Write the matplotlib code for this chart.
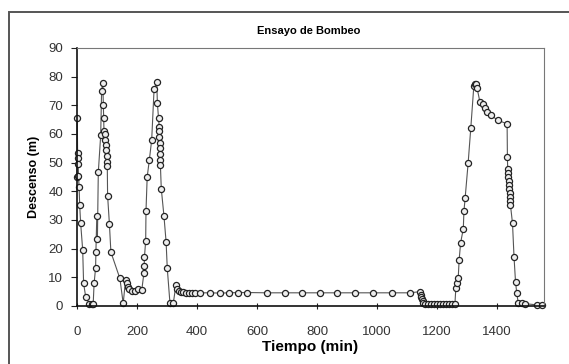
import matplotlib
matplotlib.use("Agg")
import matplotlib.pyplot as plt
from matplotlib.patches import Rectangle

plt.rcParams['font.family'] = ['Liberation Sans', 'DejaVu Sans']

# Pumping test: time (min) and drawdown (m)
tiempo = [
    0, 1, 2, 3, 4, 5, 7, 9, 12, 19, 22, 29, 41, 49, 54,
    57, 62, 63, 66, 68, 71, 79, 82, 86, 88, 89, 90, 93, 95, 97, 98, 99, 100, 101,
    102, 108, 113, 143, 154, 162, 166, 169, 174, 182, 193, 204, 216,
    223, 224, 225, 229, 230, 234, 241, 249, 257, 266, 268, 272, 274, 275, 275,
    276, 276, 277, 277, 278, 281, 290, 297, 301, 310, 321,
    330, 334, 339, 346, 355, 365, 375, 385, 395,
    410, 443, 477, 507, 537, 567, 633, 693, 750, 810, 867, 927, 987, 1050, 1110, 1143,
    1146, 1148, 1150, 1152, 1155, 1160, 1170, 1180, 1190, 1200, 1210, 1220, 1230,
    1240, 1250, 1260,
    1263, 1268, 1271, 1274, 1279, 1288, 1290, 1294, 1304, 1313, 1323, 1327, 1330,
    1334, 1343, 1352, 1360, 1368, 1379, 1402, 1434,
    1435, 1436, 1437, 1438, 1439, 1440, 1441, 1442, 1443, 1444, 1445,
    1452, 1457, 1462, 1466, 1471, 1482, 1493, 1534, 1549,
]
descenso = [
    45.0, 65.5, 53.4, 51.6, 49.5, 45.2, 41.4, 35.1, 29.1, 19.5, 7.9, 3.2, 0.8, 0.8, 0.8,
    7.9, 13.3, 18.8, 31.3, 23.2, 46.6, 59.6, 74.9, 77.9, 70.1, 65.5, 60.9, 60.0, 58.0,
    56.2, 54.5, 52.2, 50.4, 48.7,
    38.5, 28.7, 18.8, 9.6, 0.9, 9.2, 7.9, 6.6, 6.0, 5.2, 5.2, 5.8, 5.6,
    11.4, 14.0, 17.2, 22.8, 33.1, 45.0, 50.8, 57.9, 75.7, 78.0, 70.7, 65.5, 62.6, 60.9,
    59.0, 57.0, 55.0, 53.0, 51.0, 49.3, 40.9, 31.3, 22.4, 13.1, 0.9, 0.9,
    7.5, 6.0, 5.3, 4.9, 4.8, 4.7, 4.7, 4.7, 4.7,
    4.6, 4.6, 4.5, 4.6, 4.7, 4.7, 4.6, 4.6, 4.6, 4.6, 4.6, 4.6, 4.6, 4.6, 4.6, 5.0,
    4.0, 3.2, 2.5, 1.8, 1.2, 0.8, 0.7, 0.7, 0.7, 0.7, 0.7, 0.7, 0.7,
    0.7, 0.7, 0.7,
    6.2, 7.9, 9.7, 16.0, 22.0, 27.0, 33.0, 37.6, 49.8, 62.2, 76.7, 77.5, 77.5,
    76.0, 71.3, 70.3, 69.2, 67.8, 66.6, 64.9, 63.5,
    51.9, 47.7, 46.3, 45.0, 43.6, 42.2, 40.7, 39.3, 37.9, 36.5, 35.4,
    28.8, 17.2, 8.5, 4.6, 1.1, 1.0, 0.8, 0.4, 0.4,
]

x_ticks = [0, 200, 400, 600, 800, 1000, 1200, 1400]
y_ticks = [0, 10, 20, 30, 40, 50, 60, 70, 80, 90]

W, H = 569, 364
fig = plt.figure(figsize=(W / 100, H / 100), dpi=100)
fig.patch.set_facecolor('white')

# outer chart frame
fig.patches.append(Rectangle((9 / W, -0.05), 1.2, 1 - 12 / H + 0.05,
                             transform=fig.transFigure, fill=False,
                             edgecolor='#555555', linewidth=1.4))

ax = fig.add_axes([77 / W, 1 - 306 / H, (544 - 77) / W, (306 - 48) / H])
ax.plot(tiempo, descenso, '-', color='#555555', linewidth=0.8,
        marker='o', markersize=4.4, markerfacecolor='#eeeeee',
        markeredgecolor='#222222', markeredgewidth=0.9, clip_on=False)

ax.set_xlim(0, 1557)
ax.set_ylim(0, 90)
ax.set_xticks(x_ticks)
ax.set_yticks(y_ticks)
ax.tick_params(axis='both', labelsize=9.5, labelcolor='#333333', color='#222222',
               width=0.8)
ax.tick_params(axis='x', direction='inout', length=5, pad=12)
ax.tick_params(axis='y', direction='out', length=4, pad=6)

for s in ('left', 'bottom'):
    ax.spines[s].set_color('#111111')
    ax.spines[s].set_linewidth(1.2)
for s in ('top', 'right'):
    ax.spines[s].set_color('#777777')
    ax.spines[s].set_linewidth(0.8)

ax.set_xlabel('Tiempo (min)', fontsize=11, fontweight='bold', labelpad=1)
ax.set_ylabel('Descenso (m)', fontsize=9, fontweight='bold', labelpad=6)
fig.text(309 / W, 1 - 31 / H, 'Ensayo de Bombeo', ha='center', va='center',
         fontsize=8, fontweight='bold')

fig.savefig('out.png', dpi=100, facecolor='white')
